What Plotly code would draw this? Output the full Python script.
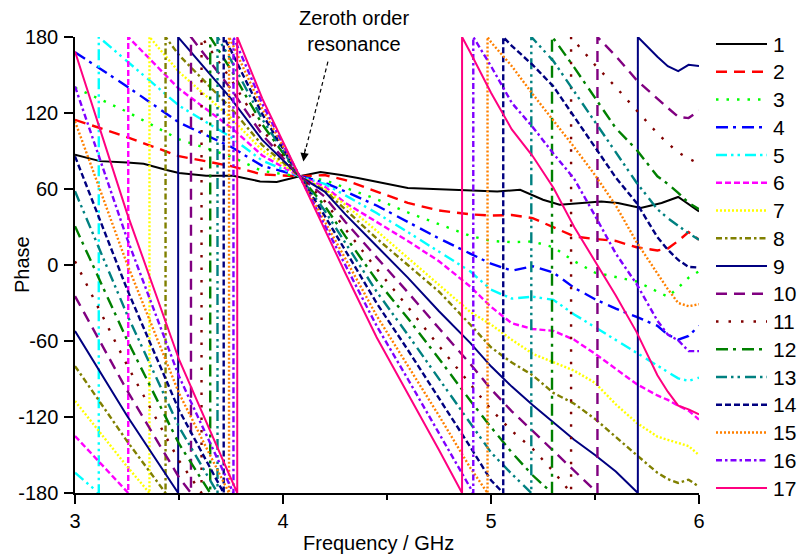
import math
import plotly.graph_objects as go

# Unwrapped transmission phase (degrees) of the 1..17 cell lines.
# Curve 1 has its own finer frequency list; curves 2..17 share freq_ghz.
freq_01 = [3.0, 3.12, 3.25, 3.33, 3.44, 3.5, 3.63, 3.76, 3.89, 3.97, 4.08, 4.18, 4.28,
           4.36, 4.6, 4.87, 5.03, 5.14, 5.25, 5.33, 5.53, 5.61, 5.72, 5.82, 5.9, 6.0]
phase_01 = [87, 82, 81, 80, 75, 72.6, 70.5, 70.5, 66, 65.5, 70, 73.5, 71,
            68.7, 60.8, 58.9, 58.1, 59.4, 51.5, 47.6, 50.2, 49, 45, 49, 53.7, 42.3]

freq_ghz = [3.0, 3.25, 3.5, 3.75, 3.9, 4.08, 4.2, 4.3, 4.45, 4.6, 4.75, 4.9, 5.0,
            5.1, 5.2, 5.3, 5.4, 5.5, 5.6, 5.7, 5.8, 5.85, 5.9, 5.95, 6.0]

phase_02 = [114.6, 101, 85.9, 78.1, 71.5, 70, 71, 67, 58, 49, 43, 40, 39,
            39.5, 37, 30, 22.6, 20.5, 19, 14, 11.5, 13, 19, 26, 20]
phase_03 = [140, 121, 99.2, 85.7, 74.2, 70, 67, 61, 52, 41.5, 32, 23, 19,
            18, 18.6, 14, 3, -6, -9.5, -13, -21, -25, -18, -10, -5]
phase_04 = [168, 141, 112.5, 93.3, 78.3, 70, 65, 58, 47, 34, 21, 9, 1,
            -4.5, -1, -6, -18, -27, -34.5, -41, -48, -55, -59, -56, -48]
phase_05 = [196, 161, 125.8, 100.9, 82.4, 70, 64, 55, 41, 26, 10.5, -5, -19.5,
            -26.5, -25, -27.5, -39, -49, -59, -69, -79.5, -84, -89.5, -91.5, -89]
phase_06 = [225, 181, 139.1, 108.5, 86.5, 70, 62, 49, 34, 19, 3, -17, -33,
            -46, -50.5, -52, -59, -70, -82, -94, -103, -106.5, -111, -115, -122]
phase_07 = [252.6, 201, 152.4, 116.1, 90.6, 70, 60, 47.5, 27, 5.5, -16, -37, -47,
            -59, -70, -76.5, -83.5, -93, -110, -124.5, -135.5, -138, -140.5, -143, -150]
phase_08 = [280.2, 221, 165.7, 123.7, 94.7, 70, 59, 44, 21, 0, -21, -47, -65,
            -77, -87, -101, -109.5, -121.5, -136, -150, -164, -169, -172, -169.5, -175]
phase_09 = [307.8, 241, 179, 131.3, 98.8, 70, 58, 40, 15, -10, -36.5, -61.5, -80,
            -96, -110.5, -124, -138, -150, -163, -179, -195.6, -203, -207, -202, -203]
phase_10 = [335.4, 261, 192.3, 138.9, 102.9, 70, 54, 34, 6, -21.5, -50, -78, -98,
            -115.5, -131, -146.5, -162, -178, -195, -214, -229, -236, -243, -244, -238]
phase_11 = [363, 281, 205.6, 146.5, 107, 70, 50.5, 28.4, -3, -33, -64, -94, -114,
            -131, -145, -163, -183, -202, -219.5, -238, -256, -264, -271, -276, -280]
phase_12 = [390.6, 301, 218.9, 154.1, 111.1, 70, 46.8, 22.6, -12, -42, -74, -107, -128,
            -148, -166, -181, -204, -228, -252, -269, -290, -296, -303, -311, -316]
phase_13 = [418.2, 321, 232.2, 161.7, 115.2, 70, 43, 17, -21, -55, -90, -125, -148,
            -165, -181, -199, -223, -247, -272, -295, -316, -323, -329, -335, -340]
phase_14 = [445.8, 341, 245.5, 169.3, 119.3, 70, 39, 11, -30, -67, -105, -143.5, -170,
            -187, -202, -219, -243, -267, -291, -311, -338, -348, -356, -361.5, -362]
phase_15 = [473.4, 361, 258.8, 176.9, 123.4, 70, 35.5, 5, -40, -79, -119, -160, -184,
            -203, -225, -246, -267, -289, -313, -342, -367, -379, -390, -392.5, -391]
phase_16 = [501, 381, 272.1, 184.5, 127.5, 70, 32, -0.6, -48, -90, -132.5, -176, -203,
            -232, -251, -272, -292, -321, -351, -375, -404, -415, -419.5, -428, -428]
phase_17 = [528.6, 401, 285.4, 192.1, 131.6, 70, 28, -6.5, -57, -101, -146, -192, -224,
            -253, -274, -299, -330, -357, -384, -413, -447, -460, -471, -474, -478]

labels = [str(i) for i in range(1, 18)]
colors = ["#000000", "#FF0000", "#00FF00", "#0000FF", "#00FFFF", "#FF00FF",
          "#FFFF00", "#808000", "#000080", "#800080", "#800000", "#008000",
          "#008080", "#000080", "#FF8000", "#8000FF", "#FF0080"]
dashes = ["solid", "11px,7px", "2.5px,8px", "12px,5px,3px,6px",
          "11px,4px,2.5px,4px,2.5px,5px", "6px,3px", "2px,2px", "6px,3px,2.5px,3px",
          "solid", "11px,7px", "2.5px,10px", "12px,5px,3px,6px",
          "11px,4px,2.5px,4px,2.5px,5px", "6px,3px", "2px,2px", "6px,3px,2.5px,3px",
          "solid"]
widths = [2 if d == "solid" else 2.4 for d in dashes]

x_ticks = [3, 4, 5, 6]
y_ticks = [-180, -120, -60, 0, 60, 120, 180]

series = [(freq_01, phase_01)] + [(freq_ghz, p) for p in (
    phase_02, phase_03, phase_04, phase_05, phase_06, phase_07, phase_08, phase_09,
    phase_10, phase_11, phase_12, phase_13, phase_14, phase_15, phase_16, phase_17)]


def wrap180(v):
    return (v + 180.0) % 360.0 - 180.0


def wrapped_path(freq, phase):
    """Wrap an unwrapped phase list into [-180, 180], inserting the vertical jumps."""
    xs, ys = [], []
    for i, (f, p) in enumerate(zip(freq, phase)):
        if i > 0:
            f0, p0 = freq[i - 1], phase[i - 1]
            lo, hi = min(p0, p), max(p0, p)
            k0 = math.ceil((lo - 180.0) / 360.0)
            k1 = math.floor((hi - 180.0) / 360.0)
            bounds = [180.0 + 360.0 * k for k in range(k0, k1 + 1) if lo < 180.0 + 360.0 * k < hi]
            bounds.sort(reverse=(p < p0))
            for b in bounds:
                fc = f0 + (b - p0) / (p - p0) * (f - f0)
                xs += [fc, fc]
                ys += ([-180, 180] if p < p0 else [180, -180])
        xs.append(f)
        ys.append(wrap180(p))
    return xs, ys


fig = go.Figure()
for (fr, ph), name, col, dsh, w in zip(series, labels, colors, dashes, widths):
    x, y = wrapped_path(fr, ph)
    fig.add_trace(go.Scatter(x=x, y=y, mode="lines", name=name, showlegend=False,
                             line=dict(color=col, width=w, dash=dsh)))

FONT = "Arial, 'Liberation Sans', sans-serif"

# Legend drawn at the right of the plot area
shapes = []
annotations = []
plot_l, plot_r, plot_t, plot_b = 75, 699, 37, 493
pw, ph_ = plot_r - plot_l, plot_b - plot_t
for i, (name, col, dsh, w) in enumerate(zip(labels, colors, dashes, widths)):
    yp = 44 + i * 27.75
    yy = (plot_b - yp) / ph_
    shapes.append(dict(type="line", xref="paper", yref="paper",
                       x0=(716 - plot_l) / pw, x1=(767 - plot_l) / pw, y0=yy, y1=yy,
                       line=dict(color=col, width=w, dash=dsh)))
    annotations.append(dict(xref="paper", yref="paper", x=(771 - plot_l) / pw, y=yy,
                            xanchor="left", yanchor="middle", text=name, showarrow=False,
                            font=dict(family=FONT, size=21, color="black")))

# Zeroth-order resonance callout
shapes.append(dict(type="line", xref="x", yref="y", x0=4.216, y0=160.5, x1=4.107, y1=90,
                   line=dict(color="black", width=1.2, dash="4px,3px")))
annotations.append(dict(xref="x", yref="y", x=4.098, y=81.8, ax=4.108, ay=93,
                        axref="x", ayref="y", text="", showarrow=True,
                        arrowhead=2, arrowsize=1.4, arrowwidth=1.2, arrowcolor="black"))
annotations.append(dict(xref="paper", yref="paper", x=(354 - plot_l) / pw,
                        y=(plot_b - 31) / ph_, xanchor="center", yanchor="middle",
                        text="Zeroth order<br>resonance", showarrow=False,
                        font=dict(family=FONT, size=20, color="black")))

# Axis titles
annotations.append(dict(xref="paper", yref="paper", x=(378 - plot_l) / pw,
                        y=(plot_b - 543) / ph_, xanchor="center", yanchor="middle",
                        text="Frequency / GHz", showarrow=False,
                        font=dict(family=FONT, size=20, color="black")))
annotations.append(dict(xref="paper", yref="paper", x=(22 - plot_l) / pw,
                        y=(plot_b - 265) / ph_, xanchor="center", yanchor="middle",
                        text="Phase", textangle=-90, showarrow=False,
                        font=dict(family=FONT, size=20, color="black")))

fig.update_layout(
    width=799, height=557,
    margin=dict(l=plot_l, r=799 - plot_r, t=plot_t, b=557 - plot_b),
    paper_bgcolor="white", plot_bgcolor="white",
    font=dict(family=FONT, size=20, color="black"),
    shapes=shapes, annotations=annotations,
    xaxis=dict(range=[3, 6], tickvals=x_ticks, ticktext=[str(v) for v in x_ticks],
               ticks="outside", ticklen=9,
               tickwidth=1.5, tickcolor="black", showline=True, linecolor="black",
               linewidth=1.5, showgrid=False, zeroline=False,
               minor=dict(tickvals=[3.5, 4.5, 5.5], ticks="outside", ticklen=5,
                          tickwidth=1.5, tickcolor="black", showgrid=False)),
    yaxis=dict(range=[-180, 180], tickvals=y_ticks, ticktext=[str(v) for v in y_ticks],
               ticks="outside", ticklen=9, tickwidth=1.5, tickcolor="black",
               showline=True, linecolor="black", linewidth=1.5, showgrid=False,
               zeroline=False, ticklabelstandoff=2),
)

fig.write_html("out.html")
